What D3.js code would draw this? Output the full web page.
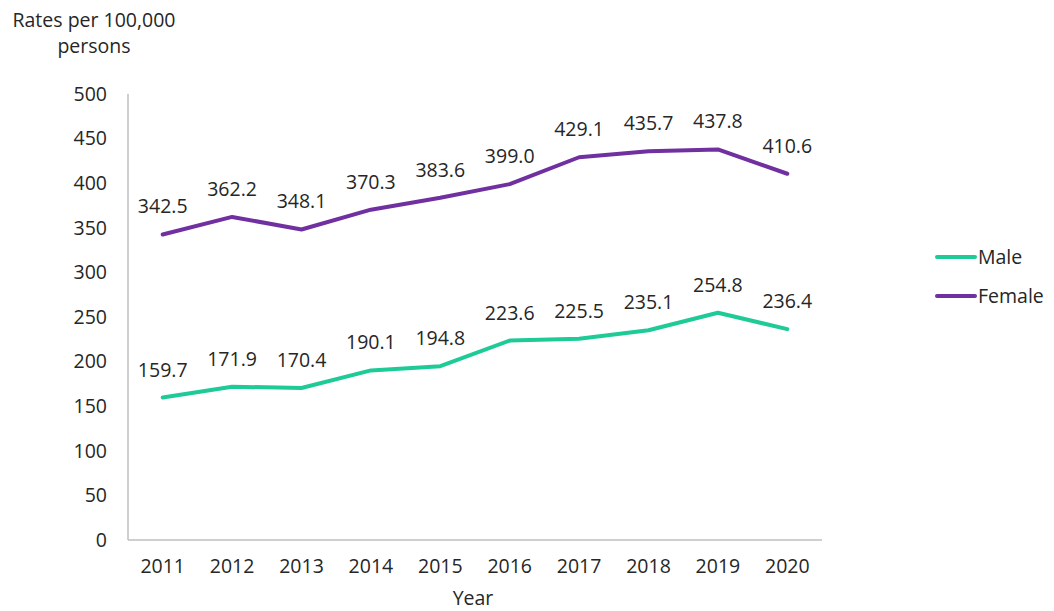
<!DOCTYPE html>
<html><head><meta charset="utf-8">
<script src="https://cdn.jsdelivr.net/npm/d3@7"></script>
<style>body{margin:0;background:#fff}svg{display:block}text{font-family:"Open Sans",sans-serif;fill:#262626}</style>
</head><body><svg id="c" width="1054" height="611"></svg>
<script>
const years = ["2011","2012","2013","2014","2015","2016","2017","2018","2019","2020"];
const male = [159.7,171.9,170.4,190.1,194.8,223.6,225.5,235.1,254.8,236.4];
const female = [342.5,362.2,348.1,370.3,383.6,399.0,429.1,435.7,437.8,410.6];
const yTicks = [0,50,100,150,200,250,300,350,400,450,500];
const seriesNames = ["Male","Female"];
const colors = ["#1ecb97","#7030a0"];

(function(){
const FS = 19.5;
const svg = d3.select("#c");
const mL = 128, mR = 822, mT = 94, mB = 540;
const x = d3.scaleBand().domain(years).range([mL, mR]);
const y = d3.scaleLinear().domain([0,500]).range([mB, mT]);

svg.append("line").attr("x1",mL).attr("x2",mL).attr("y1",mT).attr("y2",mB).attr("stroke","#bfbfbf").attr("stroke-width",1.5);
svg.append("line").attr("x1",mL).attr("x2",mR).attr("y1",mB).attr("y2",mB).attr("stroke","#bfbfbf").attr("stroke-width",1.5);

const ya = svg.append("g").attr("transform",`translate(${mL},0)`)
  .call(d3.axisLeft(y).tickValues(yTicks).tickSize(0).tickPadding(21));
ya.select(".domain").remove();
ya.selectAll("text").attr("font-size",FS).attr("fill","#262626").style("font-family","Open Sans");

const xa = svg.append("g").attr("transform",`translate(0,${mB})`)
  .call(d3.axisBottom(x).tickSize(0).tickPadding(19));
xa.select(".domain").remove();
xa.selectAll("text").attr("font-size",FS).attr("fill","#262626").style("font-family","Open Sans");

svg.append("text").attr("x",473).attr("y",605).attr("text-anchor","middle").attr("font-size",FS).text("Year");
svg.append("text").attr("x",94).attr("y",27).attr("text-anchor","middle").attr("font-size",FS).text("Rates per 100,000");
svg.append("text").attr("x",94).attr("y",53).attr("text-anchor","middle").attr("font-size",FS).text("persons");

const data = [male, female];
const line = d3.line().x((d,i)=>x(years[i])+x.bandwidth()/2).y(d=>y(d));
data.forEach((s,k)=>{
  svg.append("path").attr("d",line(s)).attr("fill","none").attr("stroke",colors[k]).attr("stroke-width",4).attr("stroke-linejoin","round").attr("stroke-linecap","round");
  svg.append("g").selectAll("text").data(s).join("text")
    .attr("x",(d,i)=>x(years[i])+x.bandwidth()/2)
    .attr("y",d=>y(d)-21)
    .attr("text-anchor","middle").attr("font-size",FS)
    .text(d=>d.toFixed(1));
});

seriesNames.forEach((n,k)=>{
  const ly = 257 + k*39;
  svg.append("line").attr("x1",937).attr("x2",975).attr("y1",ly).attr("y2",ly).attr("stroke",colors[k]).attr("stroke-width",4).attr("stroke-linecap","round");
  svg.append("text").attr("x",978).attr("y",ly+7).attr("font-size",FS).text(n);
});
})();
</script></body></html>
